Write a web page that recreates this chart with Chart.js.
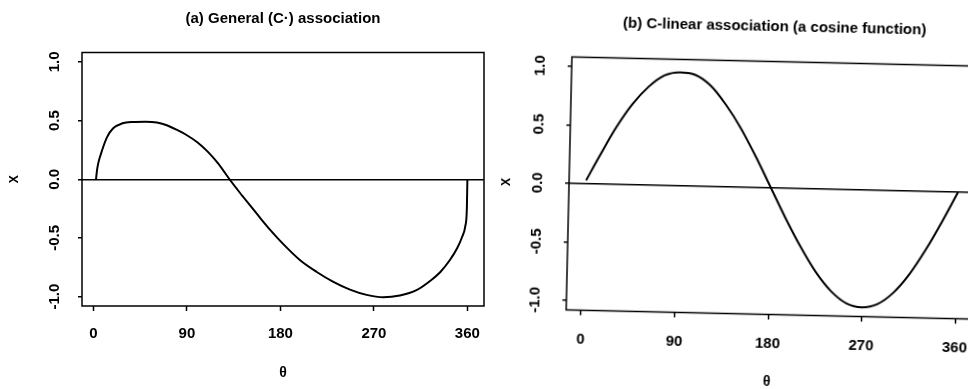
<!DOCTYPE html>
<html>
<head>
<meta charset="utf-8">
<script src="https://cdn.jsdelivr.net/npm/chart.js@4.4.1/dist/chart.umd.min.js"></script>
<style>
  html, body { margin: 0; padding: 0; background: #fff; overflow: hidden; width: 968px; height: 389px; }
  .panel { position: absolute; top: 0; }
  #wrapA { left: 0; }
  /* the scanned right panel is tilted a little clockwise */
  #wrapB { left: 484px; transform-origin: 287px 188px; transform: rotate(1.3deg); }
</style>
</head>
<body>
<div class="panel" id="wrapA"><canvas id="chartA" width="496" height="389"></canvas></div>
<div class="panel" id="wrapB"><canvas id="chartB" width="504" height="400"></canvas></div>
<script>
const thetaTicks = [0, 90, 180, 270, 360];
const xTicks = [-1, -0.5, 0, 0.5, 1];

// (a) general association
const thetaA = [2.5, 3.5, 5, 7, 10, 13, 19, 28, 38, 50, 61, 70, 80, 90, 100, 110, 120, 131, 141, 151, 161, 171, 183, 199, 215, 231, 247, 263, 279, 295, 311, 325, 334, 343, 350, 355, 358, 359.5, 360];
const xA = [0, 0.08, 0.15, 0.21, 0.29, 0.357, 0.434, 0.477, 0.488, 0.49, 0.484, 0.462, 0.422, 0.375, 0.315, 0.235, 0.135, 0, -0.115, -0.225, -0.335, -0.44, -0.555, -0.69, -0.79, -0.874, -0.94, -0.985, -1.005, -0.99, -0.945, -0.86, -0.79, -0.69, -0.59, -0.49, -0.4, -0.25, 0];

// (b) C-linear association
const thetaB = [2, 15, 30, 45, 60, 75, 90, 105, 120, 135, 150, 165, 180, 195, 210, 225, 240, 255, 270, 285, 300, 315, 330, 345, 360];
const xB = [0.03, 0.25, 0.49, 0.69, 0.84, 0.94, 0.97, 0.95, 0.86, 0.7, 0.5, 0.26, 0, -0.26, -0.5, -0.71, -0.87, -0.97, -1.0, -0.97, -0.87, -0.71, -0.5, -0.26, 0];

const FONT = '"Liberation Sans", Arial, Helvetica, sans-serif';

const boxPlugin = {
  id: "box",
  afterDraw(chart) {
    const { ctx, chartArea: a } = chart;
    ctx.save();
    ctx.strokeStyle = "#000";
    ctx.lineWidth = 1.5;
    ctx.strokeRect(a.left, a.top, a.right - a.left, a.bottom - a.top);
    ctx.restore();
  },
};

function makePanel(id, title, thetas, xs, p) {
  const ctx = document.getElementById(id);
  return new Chart(ctx, {
    type: "line",
    data: {
      datasets: [
        {
          data: thetas.map((t, i) => ({ x: t, y: xs[i] })),
          borderColor: "#000",
          borderWidth: 2,
          pointRadius: 0,
          cubicInterpolationMode: "monotone",
        },
      ],
    },
    plugins: [boxPlugin],
    options: {
      responsive: false,
      animation: false,
      devicePixelRatio: 1,
      layout: { padding: { left: 0, right: p.padRight, top: 0, bottom: 0 } },
      plugins: {
        legend: { display: false },
        tooltip: { enabled: false },
        title: {
          display: true,
          text: title,
          fullSize: false,
          color: "#000",
          font: { family: FONT, size: 15, weight: "bold" },
          padding: { top: p.titleTop, bottom: p.titleBottom },
        },
      },
      scales: {
        x: {
          type: "linear",
          min: p.xMin,
          max: p.xMax,
          afterBuildTicks: (s) => { s.ticks = thetaTicks.map((v) => ({ value: v })); },
          afterFit: (s) => { s.height = p.xAxisH; },
          border: { display: false },
          grid: { drawOnChartArea: false, tickLength: 5, tickColor: "#000", tickWidth: 1.5 },
          ticks: { color: "#000", padding: p.xTickPad, maxRotation: 0, font: { family: FONT, size: 15, weight: "bold" } },
          title: {
            display: true,
            text: "θ",
            color: "#000",
            font: { family: FONT, size: 14, weight: "bold" },
            padding: { top: 0, bottom: p.thetaPad },
          },
        },
        y: {
          min: -1.08,
          max: 1.08,
          afterBuildTicks: (s) => { s.ticks = xTicks.map((v) => ({ value: v })); },
          afterFit: (s) => { s.width = p.yAxisW; },
          border: { display: false },
          grid: {
            color: (c) => (c.tick && c.tick.value === 0 ? "#000" : "rgba(0,0,0,0)"),
            lineWidth: 1.5,
            tickLength: 4,
            tickColor: "#000",
            tickWidth: 1.5,
          },
          ticks: {
            color: "#000",
            minRotation: 90,
            maxRotation: 90,
            crossAlign: "center",
            padding: p.yTickPad,
            font: { family: FONT, size: 15, weight: "bold" },
            callback: (v) => v.toFixed(1),
          },
          title: {
            display: true,
            text: "X",
            color: "#000",
            font: { family: FONT, size: 12, weight: "bold" },
            padding: { top: p.xLabPad, bottom: 0 },
          },
        },
      },
    },
  });
}

makePanel("chartA", "(a) General (C·) association", thetaA, xA, {
  padRight: 12, titleTop: 10, titleBottom: 24.5, xMin: -11, xMax: 376,
  xAxisH: 83, xTickPad: 13.5, thetaPad: 7.6, yAxisW: 82, yTickPad: 10.1, xLabPad: 7.8,
});

makePanel("chartB", "(b) C-linear association (a cosine function)", thetaB, xB, {
  padRight: 15, titleTop: 18, titleBottom: 25.5, xMin: -14.4, xMax: 374.4,
  xAxisH: 85.5, xTickPad: 15.8, thetaPad: 9.6, yAxisW: 85, yTickPad: 14.5, xLabPad: 15.5,
});
</script>
</body>
</html>
